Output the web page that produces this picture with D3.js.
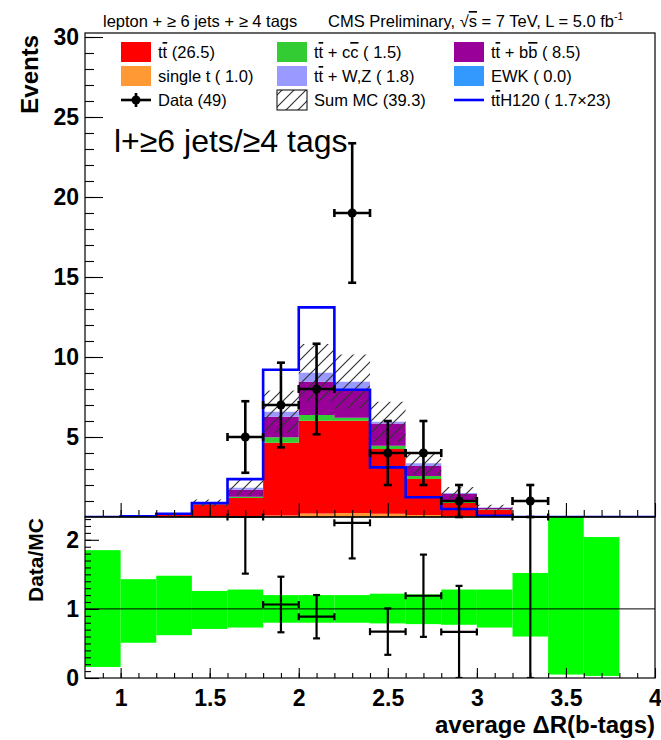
<!DOCTYPE html>
<html>
<head>
<meta charset="utf-8">
<script src="https://cdn.jsdelivr.net/npm/d3@7"></script>
<style>
  body { margin: 0; background: #fff; }
  text { font-family: "Liberation Sans", Arial, Helvetica, sans-serif; fill: #000; }
</style>
</head>
<body>
<div id="chart"></div>
<script>
// bin edges of average dR(b-tags)
const binEdges = [0.8, 1.0, 1.2, 1.4, 1.6, 1.8, 2.0, 2.2, 2.4, 2.6, 2.8, 3.0, 3.2, 3.4, 3.6, 3.8, 4.0];

// stacked backgrounds, bottom to top
const singleT = [0, 0, 0, 0, 0.03, 0.1, 0.22, 0.25, 0.2, 0.12, 0.05, 0.03, 0, 0, 0, 0];
const ttbar   = [0, 0.08, 0.17, 0.8, 1.16, 4.54, 5.8, 5.77, 4.05, 2.25, 0.82, 0.43, 0, 0, 0, 0];
const ttcc    = [0, 0, 0, 0.03, 0.08, 0.34, 0.36, 0.18, 0.2, 0.2, 0.07, 0.02, 0, 0, 0, 0];
const ttbb    = [0, 0, 0, 0.05, 0.43, 1.29, 2.08, 1.7, 1.4, 0.62, 0.5, 0.08, 0, 0, 0, 0];
const ttV     = [0, 0, 0, 0, 0.13, 0.31, 0.56, 0.56, 0.11, 0.17, 0.06, 0.04, 0, 0, 0, 0];
const ewk     = [0, 0, 0, 0, 0, 0, 0, 0, 0, 0, 0, 0, 0, 0, 0, 0];
// MC uncertainty (absolute) for the hatched band
const mcErr   = [0, 0.04, 0.07, 0.22, 0.48, 1.32, 1.8, 1.7, 1.25, 0.7, 0.38, 0.16, 0, 0, 0, 0];

// ttH signal x23
const ttH = [0, 0.05, 0.2, 0.87, 2.37, 9.2, 13.1, 7.95, 3.1, 1.23, 0.5, 0.08, 0, 0, 0, 0];

// data
const dataX = [1.7, 1.9, 2.1, 2.3, 2.5, 2.7, 2.9, 3.3];
const dataY = [5, 7, 8, 19, 4, 4, 1, 1];

// ratio panel MC band
const bandLo = [0.16, 0.51, 0.62, 0.71, 0.73, 0.8, 0.8, 0.8, 0.79, 0.78, 0.77, 0.73, 0.6, 0.05, 0.03, null];
const bandHi = [1.85, 1.43, 1.48, 1.26, 1.28, 1.2, 1.2, 1.2, 1.22, 1.21, 1.28, 1.28, 1.52, 2.5, 2.04, null];

const yTicks = [5, 10, 15, 20, 25, 30];
const xTicks = [1, 1.5, 2, 2.5, 3, 3.5, 4];
const rTicks = [0, 1, 2];

const keys = ["singleT", "ttbar", "ttcc", "ttbb", "ttV", "ewk"];
const series = { singleT, ttbar, ttcc, ttbb, ttV, ewk };
const colors = {
  singleT: "#ff9933", ttbar: "#ff0000", ttcc: "#33cc33",
  ttbb: "#990099", ttV: "#9999ff", ewk: "#3399ff"
};

const W = 661, H = 740;
const fr = { left: 85, right: 655, top: 33, mid: 517, bottom: 678 };

const svg = d3.select("#chart").append("svg")
  .attr("width", W).attr("height", H);

const x = d3.scaleLinear().domain([0.8, 4.0]).range([fr.left, fr.right]);
const y = d3.scaleLinear().domain([0, 30.25]).range([fr.mid, fr.top]);
const yr = d3.scaleLinear().domain([0, 2.33]).range([fr.bottom, fr.mid]);

// hatch pattern for Sum MC uncertainty
const defs = svg.append("defs");
defs.append("pattern")
  .attr("id", "hatch")
  .attr("patternUnits", "userSpaceOnUse")
  .attr("width", 12).attr("height", 12)
  .append("path")
  .attr("d", "M0,12 L12,0 M-3,3 L3,-3 M9,15 L15,9")
  .attr("stroke", "#333")
  .attr("stroke-width", 1.2);

defs.append("clipPath").attr("id", "clip-ratio")
  .append("rect")
  .attr("x", fr.left).attr("y", fr.mid)
  .attr("width", fr.right - fr.left).attr("height", fr.bottom - fr.mid);

defs.append("clipPath").attr("id", "clip-main")
  .append("rect")
  .attr("x", fr.left).attr("y", fr.top)
  .attr("width", fr.right - fr.left).attr("height", fr.mid - fr.top);

// table of bins
const rows = binEdges.slice(0, -1).map((lo, i) => {
  const r = { lo: lo, hi: binEdges[i + 1] };
  keys.forEach(k => r[k] = series[k][i]);
  return r;
});
const totals = rows.map(r => d3.sum(keys, k => r[k]));

const stacked = d3.stack().keys(keys)(rows);

const area = d3.area()
  .curve(d3.curveStepAfter)
  .x(d => x(d.x))
  .y0(d => y(d.y0))
  .y1(d => y(d.y1));

const main = svg.append("g").attr("clip-path", "url(#clip-main)");

stacked.forEach(layer => {
  const pts = layer.map(d => ({ x: d.data.lo, y0: d[0], y1: d[1] }));
  const last = layer[layer.length - 1];
  pts.push({ x: last.data.hi, y0: last[0], y1: last[1] });
  main.append("path")
    .attr("d", area(pts))
    .attr("fill", colors[layer.key]);
});

// hatched MC uncertainty
const errPts = rows.map((r, i) => ({
  x: r.lo,
  y0: totals[i] > 0 ? totals[i] - mcErr[i] : 0,
  y1: totals[i] > 0 ? totals[i] + mcErr[i] : 0
}));
errPts.push({ x: 4.0, y0: 0, y1: 0 });
main.append("path")
  .attr("d", area(errPts))
  .attr("fill", "url(#hatch)");

// ttH outline
const sigPts = rows.map((r, i) => ({ x: r.lo, v: ttH[i] }));
sigPts.push({ x: 4.0, v: 0 });
main.append("path")
  .attr("d", d3.line().curve(d3.curveStepAfter).x(d => x(d.x)).y(d => y(d.v))(sigPts))
  .attr("fill", "none")
  .attr("stroke", "#0000ff")
  .attr("stroke-width", 2.6);

// data points with sqrt(N) errors
const halfBin = 0.1;
const pts = svg.append("g").attr("stroke", "#000").attr("stroke-width", 2.6);
dataX.forEach((dx, i) => {
  const n = dataY[i], e = Math.sqrt(n);
  const cx = x(dx), cy = y(n);
  pts.append("line").attr("x1", cx).attr("x2", cx).attr("y1", y(n + e)).attr("y2", y(n - e));
  pts.append("line").attr("x1", x(dx - halfBin)).attr("x2", x(dx + halfBin)).attr("y1", cy).attr("y2", cy);
  [n + e, n - e].forEach(v => pts.append("line")
    .attr("x1", cx - 4).attr("x2", cx + 4).attr("y1", y(v)).attr("y2", y(v)));
  [dx - halfBin, dx + halfBin].forEach(v => pts.append("line")
    .attr("x1", x(v)).attr("x2", x(v)).attr("y1", cy - 4).attr("y2", cy + 4));
  pts.append("circle").attr("cx", cx).attr("cy", cy).attr("r", 4.5).attr("fill", "#000").attr("stroke", "none");
});

// ratio panel
const ratio = svg.append("g").attr("clip-path", "url(#clip-ratio)");
rows.forEach((r, i) => {
  if (bandLo[i] == null) return;
  ratio.append("rect")
    .attr("x", x(r.lo)).attr("width", x(r.hi) - x(r.lo))
    .attr("y", yr(bandHi[i])).attr("height", yr(bandLo[i]) - yr(bandHi[i]))
    .attr("fill", "#00ff00");
});
ratio.append("line")
  .attr("x1", fr.left).attr("x2", fr.right)
  .attr("y1", yr(1)).attr("y2", yr(1))
  .attr("stroke", "#000").attr("stroke-width", 1);

const rMax = yr.domain()[1];
const rp = svg.append("g").attr("stroke", "#000").attr("stroke-width", 2.2);
const rpClip = svg.append("g").attr("clip-path", "url(#clip-ratio)").attr("stroke", "#000").attr("stroke-width", 2.2);
dataX.forEach((dx, i) => {
  const bi = binEdges.findIndex((b, j) => dx > b && dx < binEdges[j + 1]);
  const mc = totals[bi];
  let r, lo, hi;
  if (mc > 0) {
    r = dataY[i] / mc;
    const e = Math.sqrt(dataY[i]) / mc;
    lo = Math.max(r - e, 0); hi = r + e;
  } else {
    r = Infinity; lo = 0; hi = Infinity;
  }
  const cx = x(dx);
  const cy = yr(Math.min(r, rMax));
  const yHi = yr(Math.min(hi, rMax)), yLo = yr(lo);
  rpClip.append("line").attr("x1", cx).attr("x2", cx).attr("y1", yHi).attr("y2", yLo);
  [hi, lo].forEach(v => { if (v <= rMax) rpClip.append("line")
    .attr("x1", cx - 3.5).attr("x2", cx + 3.5).attr("y1", yr(v)).attr("y2", yr(v)); });
  rp.append("line").attr("x1", x(dx - halfBin)).attr("x2", x(dx + halfBin)).attr("y1", cy).attr("y2", cy);
  [dx - halfBin, dx + halfBin].forEach(v => rp.append("line")
    .attr("x1", x(v)).attr("x2", x(v)).attr("y1", cy - 3.5).attr("y2", Math.min(cy + 3.5, fr.bottom)));
});

// frames
svg.append("rect")
  .attr("x", fr.left).attr("y", fr.top)
  .attr("width", fr.right - fr.left).attr("height", fr.mid - fr.top)
  .attr("fill", "none").attr("stroke", "#000").attr("stroke-width", 1.2);
svg.append("rect")
  .attr("x", fr.left).attr("y", fr.mid)
  .attr("width", fr.right - fr.left).attr("height", fr.bottom - fr.mid)
  .attr("fill", "none").attr("stroke", "#000").attr("stroke-width", 1.2);

// axes
function styleAxis(g, size) {
  g.select(".domain").remove();
  g.selectAll(".tick line").attr("stroke", "#000").attr("stroke-width", 1.1);
  g.selectAll(".tick text")
    .style("font-family", '"Liberation Sans", Arial, sans-serif')
    .style("font-weight", "bold")
    .style("font-size", size + "px")
    .attr("fill", "#000");
}

// upper y
svg.append("g").attr("transform", `translate(${fr.left},0)`)
  .call(d3.axisLeft(y).tickValues(d3.range(1, 31)).tickSize(-9).tickFormat(""))
  .call(g => styleAxis(g, 0));
svg.append("g").attr("transform", `translate(${fr.left},0)`)
  .call(d3.axisLeft(y).tickValues(yTicks).tickSize(-18).tickPadding(6).tickFormat(d3.format("d")))
  .call(g => styleAxis(g, 23));

// upper x (ticks only)
svg.append("g").attr("transform", `translate(0,${fr.mid})`)
  .call(d3.axisBottom(x).tickValues(d3.range(9, 40).map(v => v / 10)).tickSize(-7).tickFormat(""))
  .call(g => styleAxis(g, 0));
svg.append("g").attr("transform", `translate(0,${fr.mid})`)
  .call(d3.axisBottom(x).tickValues(xTicks).tickSize(-14).tickFormat(""))
  .call(g => styleAxis(g, 0));

// ratio y
svg.append("g").attr("transform", `translate(${fr.left},0)`)
  .call(d3.axisLeft(yr).tickValues(d3.range(1, 24).map(v => v / 10)).tickSize(-6).tickFormat(""))
  .call(g => styleAxis(g, 0));
svg.append("g").attr("transform", `translate(${fr.left},0)`)
  .call(d3.axisLeft(yr).tickValues(rTicks).tickSize(-14).tickPadding(6).tickFormat(d3.format("d")))
  .call(g => styleAxis(g, 23));

// ratio x
svg.append("g").attr("transform", `translate(0,${fr.bottom})`)
  .call(d3.axisBottom(x).tickValues(d3.range(9, 40).map(v => v / 10)).tickSize(-5).tickFormat(""))
  .call(g => styleAxis(g, 0));
svg.append("g").attr("transform", `translate(0,${fr.bottom})`)
  .call(d3.axisBottom(x).tickValues(xTicks).tickSize(-10).tickPadding(12).tickFormat(d3.format("")))
  .call(g => styleAxis(g, 23));

// axis titles
svg.append("text")
  .attr("transform", `translate(38,${fr.top + 2}) rotate(-90)`)
  .attr("text-anchor", "end")
  .style("font-weight", "bold").style("font-size", "24px")
  .text("Events");
svg.append("text")
  .attr("transform", `translate(43,${fr.mid + 1}) rotate(-90)`)
  .attr("text-anchor", "end")
  .style("font-weight", "bold").style("font-size", "21px")
  .text("Data/MC");
svg.append("text")
  .attr("x", fr.right).attr("y", 733)
  .attr("text-anchor", "end")
  .style("font-weight", "bold").style("font-size", "24px")
  .text("average \u0394R(b-tags)");

// rich text helper: segments of [string, overline or superscript]
function richText(parent, px, py, size, segs) {
  const t = parent.append("text").attr("x", px).attr("y", py).style("font-size", size + "px");
  segs.forEach(s => {
    const sp = t.append("tspan").text(s[0]);
    if (s[1] === "bar") sp.style("text-decoration", "overline");
    if (s[1] === "sup") sp.attr("dy", -7).style("font-size", (size * 0.65) + "px");
  });
  return t;
}

// header
richText(svg, 103, 27, 16.5, [["lepton + \u2265 6 jets + \u2265 4 tags"]]);
richText(svg, 328, 27, 16.5, [["CMS Preliminary, \u221a"], ["s", "bar"], [" = 7 TeV, L = 5.0 fb"], ["-1", "sup"]]);

// big label
svg.append("text").attr("x", 114).attr("y", 152)
  .style("font-size", "32px")
  .text("l+\u22656 jets/\u22654 tags");

// legend
const leg = svg.append("g");
const cols = [121, 277, 454];
const rowsY = [52, 76, 100];
const boxW = 30, boxH = 20, textDx = 37, legSize = 16.5;
const legendEntries = [
  { c: 0, r: 0, fill: colors.ttbar, segs: [["t"], ["t", "bar"], [" (26.5)"]] },
  { c: 1, r: 0, fill: colors.ttcc, segs: [["t"], ["t", "bar"], [" + c"], ["c", "bar"], [" ( 1.5)"]] },
  { c: 2, r: 0, fill: colors.ttbb, segs: [["t"], ["t", "bar"], [" + b"], ["b", "bar"], [" ( 8.5)"]] },
  { c: 0, r: 1, fill: colors.singleT, segs: [["single t ( 1.0)"]] },
  { c: 1, r: 1, fill: colors.ttV, segs: [["t"], ["t", "bar"], [" + W,Z ( 1.8)"]] },
  { c: 2, r: 1, fill: colors.ewk, segs: [["EWK ( 0.0)"]] },
  { c: 0, r: 2, type: "data", segs: [["Data (49)"]] },
  { c: 1, r: 2, type: "hatch", segs: [["Sum MC (39.3)"]] },
  { c: 2, r: 2, type: "line", segs: [["t"], ["t", "bar"], ["H120 ( 1.7\u00d723)"]] }
];
legendEntries.forEach(e => {
  const lx = cols[e.c], ly = rowsY[e.r];
  if (e.type === "data") {
    leg.append("line").attr("x1", lx).attr("x2", lx + boxW).attr("y1", ly).attr("y2", ly)
      .attr("stroke", "#000").attr("stroke-width", 2.6);
    leg.append("line").attr("x1", lx + boxW / 2).attr("x2", lx + boxW / 2).attr("y1", ly - 7).attr("y2", ly + 7)
      .attr("stroke", "#000").attr("stroke-width", 2.6);
    leg.append("circle").attr("cx", lx + boxW / 2).attr("cy", ly).attr("r", 4.5).attr("fill", "#000");
  } else if (e.type === "hatch") {
    leg.append("rect").attr("x", lx).attr("y", ly - boxH / 2).attr("width", boxW).attr("height", boxH)
      .attr("fill", "url(#hatch)").attr("stroke", "#000").attr("stroke-width", 1);
  } else if (e.type === "line") {
    leg.append("line").attr("x1", lx).attr("x2", lx + boxW).attr("y1", ly).attr("y2", ly)
      .attr("stroke", "#0000ff").attr("stroke-width", 2.6);
  } else {
    leg.append("rect").attr("x", lx).attr("y", ly - boxH / 2).attr("width", boxW).attr("height", boxH)
      .attr("fill", e.fill);
  }
  richText(leg, lx + textDx, ly + 6, legSize, e.segs);
});
</script>
</body>
</html>
